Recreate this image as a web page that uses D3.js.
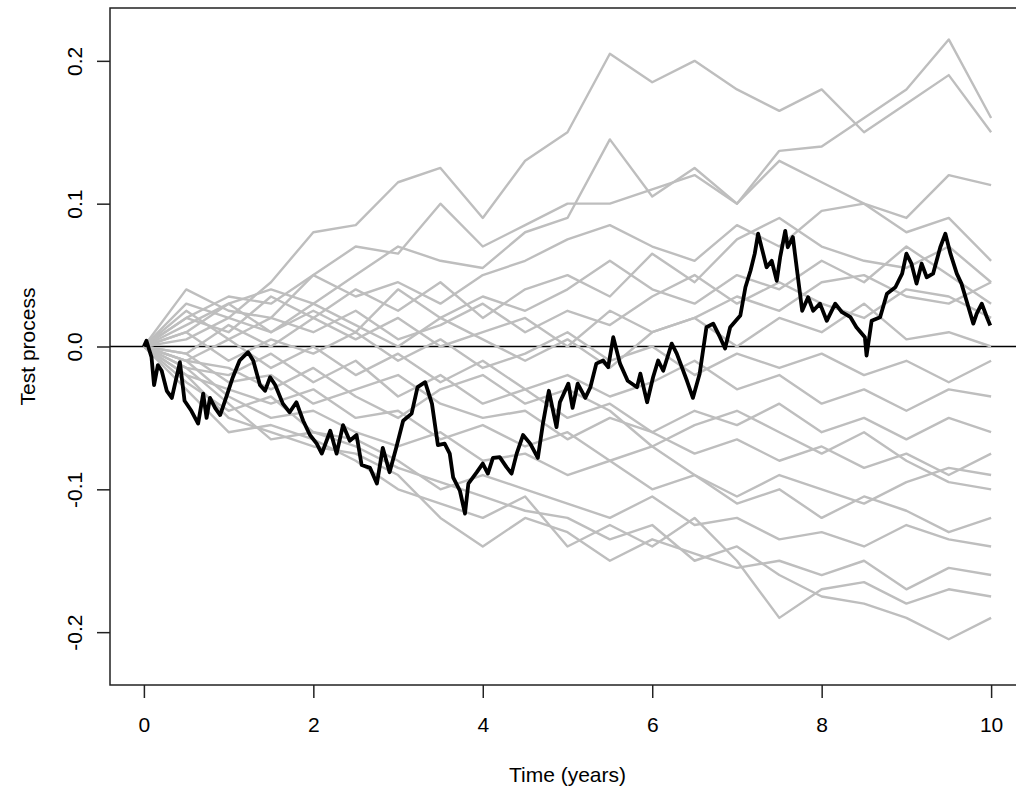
<!DOCTYPE html>
<html>
<head>
	<title>Test process</title>
	<meta charset="utf-8">
	<style>
		body { margin: 0; background: #fff; }
		text { font-family: "Liberation Sans", Arial, sans-serif; fill: #000; }
		.axis path { display: none; }
		.axis line { stroke: #222; stroke-width: 1.5; }
		.axis text { font-size: 21px; }
		.frame { fill: none; stroke: #222; stroke-width: 1.5; }
		.zero-line { stroke: #000; stroke-width: 1.3; }
		.gray-run { fill: none; stroke: #bebebe; stroke-width: 2.4; stroke-linejoin: round; }
		.test-run { fill: none; stroke: #000; stroke-width: 3.8; stroke-linejoin: round; }
		.axis-title { font-size: 21px; text-anchor: middle; }
	</style>
</head>
<body>
	<div class="chart"></div>

	<script src="https://d3js.org/d3.v7.min.js"></script>
	<script>
		// tick values and labels
		var xTicks = [0, 2, 4, 6, 8, 10];
		var yTicks = [-0.2, -0.1, 0.0, 0.1, 0.2];
		var yTickLabels = ["-0.2", "-0.1", "0.0", "0.1", "0.2"];

		// observed test process (black)
		var testT = [0, 0.03, 0.09, 0.12, 0.165, 0.21, 0.27, 0.33, 0.425, 0.48, 0.56, 0.64, 0.70, 0.74, 0.78, 0.84, 0.90, 0.98,
			1.05, 1.13, 1.23, 1.29, 1.37, 1.43, 1.49, 1.55, 1.64, 1.72, 1.80, 1.88, 1.96, 2.04, 2.10, 2.20, 2.275, 2.35, 2.43,
			2.51, 2.57, 2.67, 2.75, 2.82, 2.90, 2.98, 3.06, 3.16, 3.23, 3.32, 3.40, 3.47, 3.55, 3.61, 3.65, 3.73, 3.79, 3.83,
			3.93, 4.00, 4.06, 4.12, 4.20, 4.28, 4.34, 4.40, 4.475, 4.56, 4.65, 4.71, 4.78, 4.87, 4.91, 5.01, 5.06, 5.12, 5.21,
			5.27, 5.34, 5.42, 5.48, 5.54, 5.62, 5.71, 5.82, 5.86, 5.94, 6.01, 6.07, 6.13, 6.23, 6.29, 6.41, 6.48, 6.56, 6.64,
			6.72, 6.80, 6.86, 6.92, 7.04, 7.10, 7.16, 7.21, 7.25, 7.31, 7.35, 7.41, 7.47, 7.51, 7.57, 7.60, 7.66, 7.71, 7.77,
			7.84, 7.90, 7.98, 8.06, 8.16, 8.24, 8.34, 8.41, 8.51, 8.53, 8.59, 8.69, 8.77, 8.87, 8.95, 9.00, 9.06, 9.12, 9.18,
			9.24, 9.315, 9.40, 9.46, 9.52, 9.595, 9.65, 9.71, 9.79, 9.83, 9.89, 9.95, 9.99];
		var testV = [0, 0.004, -0.0075, -0.027, -0.013, -0.017, -0.031, -0.036, -0.011, -0.038, -0.045, -0.054, -0.033, -0.05,
			-0.036, -0.043, -0.048, -0.034, -0.0215, -0.0098, -0.004, -0.0098, -0.027, -0.031, -0.0215, -0.027, -0.04, -0.046,
			-0.039, -0.052, -0.062, -0.068, -0.075, -0.059, -0.075, -0.055, -0.066, -0.062, -0.083, -0.085, -0.096, -0.071,
			-0.088, -0.0705, -0.052, -0.047, -0.0285, -0.025, -0.04, -0.069, -0.068, -0.075, -0.0916, -0.101, -0.117, -0.096,
			-0.088, -0.082, -0.089, -0.078, -0.0775, -0.0845, -0.089, -0.075, -0.062, -0.068, -0.078, -0.054, -0.031, -0.0565,
			-0.039, -0.026, -0.043, -0.026, -0.036, -0.0285, -0.012, -0.0098, -0.0145, 0.0065, -0.012, -0.024, -0.0285, -0.019,
			-0.039, -0.0215, -0.0098, -0.017, 0.002, -0.005, -0.024, -0.036, -0.019, 0.0135, 0.016, 0.0065, -0.0014, 0.0135,
			0.0217, 0.0415, 0.053, 0.065, 0.079, 0.065, 0.0555, 0.06, 0.046, 0.0625, 0.081, 0.0695, 0.0766, 0.053, 0.025,
			0.0345, 0.025, 0.030, 0.018, 0.030, 0.024, 0.0205, 0.0135, 0.0065, -0.0063, 0.018, 0.0205, 0.037, 0.0415, 0.051,
			0.065, 0.058, 0.044, 0.058, 0.0485, 0.051, 0.0695, 0.079, 0.065, 0.051, 0.044, 0.032, 0.016, 0.023, 0.030, 0.0205,
			0.0147];

		// simulated processes (gray), read every half year
		var grayT = [0, 0.5, 1, 1.5, 2, 2.5, 3, 3.5, 4, 4.5, 5, 5.5, 6, 6.5, 7, 7.5, 8, 8.5, 9, 9.5, 10];
		var run01 = [0, .03, .02, .045, .08, .085, .115, .125, .09, .13, .15, .205, .185, .2, .18, .165, .18, .15, .17, .19, .15];
		var run02 = [0, .02, .035, .03, .05, .07, .065, .1, .07, .085, .1, .1, .11, .12, .1, .137, .14, .16, .18, .215, .16];
		var run03 = [0, .01, .03, .04, .03, .05, .07, .06, .055, .08, .09, .145, .105, .125, .1, .13, .115, .1, .09, .12, .113];
		var run04 = [0, .04, .025, .02, .05, .035, .045, .03, .05, .06, .075, .085, .07, .06, .085, .07, .095, .1, .08, .09, .06];
		var run05 = [0, .02, .01, .035, .02, .04, .025, .045, .02, .04, .05, .035, .065, .045, .075, .09, .07, .06, .055, .07, .045];
		var run06 = [0, .015, .03, .01, .025, .01, .04, .02, .035, .025, .04, .06, .04, .03, .05, .04, .06, .045, .07, .05, .03];
		var run07 = [0, .025, .005, .02, .01, .025, .005, .015, .03, .01, .025, .015, .035, .05, .03, .045, .03, .02, .04, .035, .02];
		var run08 = [0, -.005, .015, 0, .02, .005, .02, 0, .01, .02, 0, .025, .01, .02, 0, .02, .01, .03, .005, .01, 0];
		var run09 = [0, .01, -.01, .005, -.005, .01, -.01, .005, -.015, -.005, .01, -.01, 0, -.02, -.005, -.015, -.005, -.02, -.01, -.025, -.01];
		var run10 = [0, -.01, .005, -.015, 0, -.02, -.005, -.025, -.01, -.03, -.02, -.035, -.025, -.01, -.03, -.02, -.04, -.03, -.045, -.03, -.035];
		var run11 = [0, -.015, -.02, -.005, -.025, -.01, -.035, -.02, -.04, -.03, -.05, -.04, -.06, -.045, -.055, -.04, -.06, -.05, -.065, -.05, -.06];
		var run12 = [0, -.005, -.025, -.02, -.04, -.03, -.02, -.04, -.05, -.045, -.065, -.05, -.06, -.075, -.065, -.08, -.07, -.085, -.075, -.09, -.075];
		var run13 = [0, -.02, -.03, -.04, -.03, -.05, -.045, -.065, -.055, -.07, -.06, -.08, -.07, -.09, -.105, -.09, -.1, -.11, -.095, -.085, -.09];
		var run14 = [0, -.01, -.035, -.05, -.045, -.06, -.07, -.06, -.08, -.075, -.09, -.08, -.1, -.09, -.11, -.1, -.12, -.105, -.115, -.13, -.12];
		var run15 = [0, -.025, -.045, -.035, -.06, -.065, -.08, -.1, -.09, -.1, -.11, -.12, -.105, -.125, -.12, -.135, -.13, -.14, -.125, -.135, -.14];
		var run16 = [0, -.02, -.05, -.06, -.07, -.075, -.09, -.12, -.14, -.12, -.13, -.15, -.135, -.145, -.155, -.15, -.16, -.15, -.17, -.155, -.16];
		var run17 = [0, -.03, -.06, -.055, -.065, -.08, -.1, -.11, -.12, -.105, -.14, -.125, -.14, -.12, -.15, -.19, -.17, -.165, -.18, -.17, -.175];
		var run18 = [0, -.015, -.04, -.065, -.06, -.07, -.085, -.095, -.105, -.115, -.12, -.135, -.125, -.15, -.14, -.16, -.175, -.18, -.19, -.205, -.19];
		var run19 = [0, .005, .02, .01, .03, .015, 0, .02, .005, -.01, .005, -.015, .01, .02, .035, .025, .045, .05, .035, .03, .045];
		var run20 = [0, -.01, -.015, -.03, -.015, -.035, -.05, -.03, -.02, -.04, -.03, -.045, -.07, -.055, -.045, -.06, -.075, -.06, -.08, -.095, -.1];
		var grayRuns = [run01, run02, run03, run04, run05, run06, run07, run08, run09, run10,
			run11, run12, run13, run14, run15, run16, run17, run18, run19, run20];

		// chart size and plot box
		var width = 1016, height = 791;
		var plot = { left: 110, right: 1025, top: 8, bottom: 685 };

		var svg = d3.select(".chart")
			.append("svg")
			.attr("width", width)
			.attr("height", height);

		// scales (R style 4% padding around the data)
		var x = d3.scaleLinear().domain([-0.4, 10.4]).range([plot.left, plot.right]);
		var y = d3.scaleLinear().domain([-0.237, 0.237]).range([plot.bottom, plot.top]);

		svg.append("clipPath")
			.attr("id", "clip")
			.append("rect")
			.attr("x", plot.left)
			.attr("y", plot.top)
			.attr("width", plot.right - plot.left)
			.attr("height", plot.bottom - plot.top);

		var lines = svg.append("g").attr("clip-path", "url(#clip)");

		// zero reference line
		lines.append("line")
			.attr("class", "zero-line")
			.attr("x1", plot.left)
			.attr("x2", plot.right)
			.attr("y1", y(0))
			.attr("y2", y(0));

		var line = d3.line()
			.x(function(d) { return x(d[0]); })
			.y(function(d) { return y(d[1]); });

		// gray simulated paths
		lines.selectAll(".gray-run")
			.data(grayRuns)
			.enter()
			.append("path")
			.attr("class", "gray-run")
			.attr("d", function(run) {
				return line(run.map(function(v, i) { return [grayT[i], v]; }));
			});

		// observed path on top
		lines.append("path")
			.attr("class", "test-run")
			.attr("d", line(testT.map(function(t, i) { return [t, testV[i]]; })));

		// box
		svg.append("rect")
			.attr("class", "frame")
			.attr("x", plot.left)
			.attr("y", plot.top)
			.attr("width", plot.right - plot.left)
			.attr("height", plot.bottom - plot.top);

		// x axis
		svg.append("g")
			.attr("class", "axis")
			.attr("transform", "translate(0," + plot.bottom + ")")
			.call(d3.axisBottom(x).tickValues(xTicks).tickSize(13).tickPadding(19).tickFormat(d3.format("d")));

		// y axis, labels parallel to the axis
		var yAxis = svg.append("g")
			.attr("class", "axis")
			.attr("transform", "translate(" + plot.left + ",0)")
			.call(d3.axisLeft(y).tickValues(yTicks).tickSize(13)
				.tickFormat(function(d, i) { return yTickLabels[i]; }));

		yAxis.selectAll("text")
			.attr("transform", "rotate(-90)")
			.attr("x", 0)
			.attr("y", -35)
			.attr("dy", "0.35em")
			.style("text-anchor", "middle");

		// axis titles
		svg.append("text")
			.attr("class", "axis-title")
			.attr("x", (plot.left + plot.right) / 2)
			.attr("y", 775)
			.attr("dy", "0.35em")
			.text("Time (years)");

		svg.append("text")
			.attr("class", "axis-title")
			.attr("transform", "translate(28," + y(0) + ") rotate(-90)")
			.attr("dy", "0.35em")
			.text("Test process");
	</script>
</body>
</html>
